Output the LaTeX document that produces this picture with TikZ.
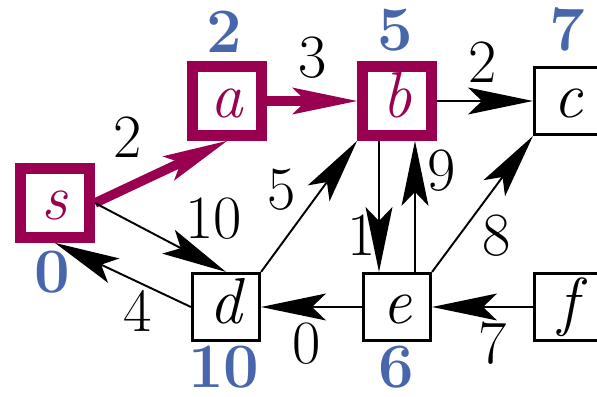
\documentclass[tikz,border=0pt]{standalone}
\usepackage{tikz}
\usetikzlibrary{arrows.meta}
\definecolor{tree}{HTML}{99004F}
\definecolor{dist}{HTML}{4866AC}
\definecolor{ink}{HTML}{000000}
\tikzset{
  vtx/.style={draw=ink, minimum size=1.35cm, inner sep=0pt, line width=1.5pt,
              text height=0.74cm, text depth=0.06cm, font=\fontsize{37}{37}\selectfont\itshape},
  tvtx/.style={vtx, draw=tree, text=tree, minimum size=1.38cm, line width=6.2pt},
  arr/.style={-{Stealth[length=1.3cm, width=0.54cm, inset=0.28cm, line width=0pt]}, line width=1.1pt, draw=ink},
  tarr/.style={arr, draw=tree, line width=5.4pt},
  wt/.style={font=\fontsize{35}{35}\selectfont, inner sep=0pt},
  dst/.style={font=\fontsize{36}{36}\selectfont\bfseries, text=dist, inner sep=0pt},
}
\begin{document}
\begin{tikzpicture}
  \useasboundingbox (0,0) rectangle (11.94,7.94);
  \node[tvtx] (s) at (1.10,3.88) {s};
  \node[tvtx] (a) at (4.54,5.92) {a};
  \node[tvtx] (b) at (7.94,5.92) {b};
  \node[vtx]  (c) at (11.36,5.92) {c};
  \node[vtx]  (d) at (4.52,1.80) {d};
  \node[vtx]  (e) at (7.94,1.80) {e};
  \node[vtx]  (f) at (11.36,1.80) {f};
  % shortest-path estimates
  \foreach \n/\x/\y/\t in {ds/1.04/2.50/0, da/4.48/7.30/2, db/7.90/7.34/5,
                          dc/11.34/7.34/7, dd/4.48/0.60/10, de/7.92/0.60/6}
    \node[dst] (\n) at (\x,\y) {\t};
  % edge weights
  \foreach \n/\x/\y/\t in {wsa/2.56/5.20/2, wab/6.26/6.78/3, wbc/9.66/6.70/2, wsd/4.28/3.56/10,
                          wds/2.76/1.72/4, wdb/5.64/4.14/5, wbe/7.24/3.24/1, web/8.84/4.52/9,
                          wec/9.94/3.22/8, wed/6.14/1.06/0, wfe/9.86/1.08/7}
    \node[wt] (\n) at (\x,\y) {\t};
  \draw[tarr] (s.east) -- (a.south);
  \draw[tarr] (a) -- (b);
  \draw[arr] (b) -- (c);
  \draw[arr] (s.east) -- (d.north);
  \draw[arr] (d.west) -- (s.south);
  \draw[arr] (d.north east) -- (b.south west);
  \draw[arr] ([xshift=-0.36cm]b.south) -- ([xshift=-0.36cm]e.north);
  \draw[arr] ([xshift=0.36cm]e.north) -- ([xshift=0.36cm]b.south);
  \draw[arr] (e.north east) -- (c.south west);
  \draw[arr] (e) -- (d);
  \draw[arr] (f) -- (e);
\end{tikzpicture}
\end{document}
